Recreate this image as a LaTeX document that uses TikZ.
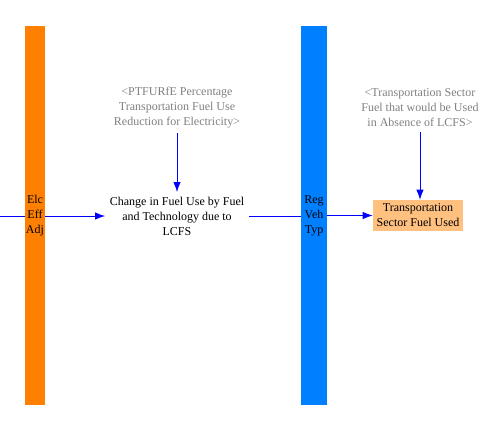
\documentclass[tikz,border=0pt]{standalone}
\usepackage{fontspec}
\setmainfont{Liberation Serif}
\usetikzlibrary{arrows.meta}

\definecolor{barorange}{HTML}{FF8000}
\definecolor{barblue}{HTML}{0080FF}
\definecolor{boxfill}{HTML}{FFC080}
\definecolor{shadowgrey}{HTML}{808080}

\begin{document}
\begin{tikzpicture}[x=0.75pt,y=-0.75pt,
    every node/.style={font=\fontsize{9}{11.25}\selectfont,align=center},
    bar/.style={inner sep=0pt,minimum height=284.25pt},
    shadowvar/.style={text=shadowgrey},
    level/.style={fill=boxfill,inner sep=2.5pt,minimum width=67.5pt,minimum height=23.25pt},
    link/.style={draw=blue,line width=0.6pt,-{Latex[length=7.5pt,width=5.5pt]}}]
    \useasboundingbox (0,0) rectangle (493,430);
    \node[bar,fill=barorange,minimum width=15pt] (elc) at (35,215.5) {Elc\\Eff\\Adj};
    \node[bar,fill=barblue,minimum width=19.5pt] (reg) at (314,215.5) {Reg\\Veh\\Typ};
    \node (change) at (177,216) {Change in Fuel Use by Fuel\\and Technology due to\\LCFS};
    \node[shadowvar] (ptfurfe) at (177,108)
      {<PTFURfE Percentage\\Transportation Fuel Use\\Reduction for Electricity>};
    \node[level] (used) at (418,215.5) {Transportation\\Sector Fuel Used};
    \node[shadowvar] (absence) at (420,108)
      {<Transportation Sector\\Fuel that would be Used\\in Absence of LCFS>};
    \coordinate (left) at (0,216);
    \draw[draw=blue,line width=0.6pt] (left) -- (elc.west |- left);
    \draw[link] (elc.east |- left) -- (change.west);
    \draw[draw=blue,line width=0.6pt] (change.east) -- (reg.west |- change.east);
    \draw[link] (reg.east |- used.west) -- (used.west);
    \draw[link] (ptfurfe.south) -- (change.north);
    \draw[link] (absence.south) -- (used.north -| absence.south);
  \end{tikzpicture}
\end{document}
